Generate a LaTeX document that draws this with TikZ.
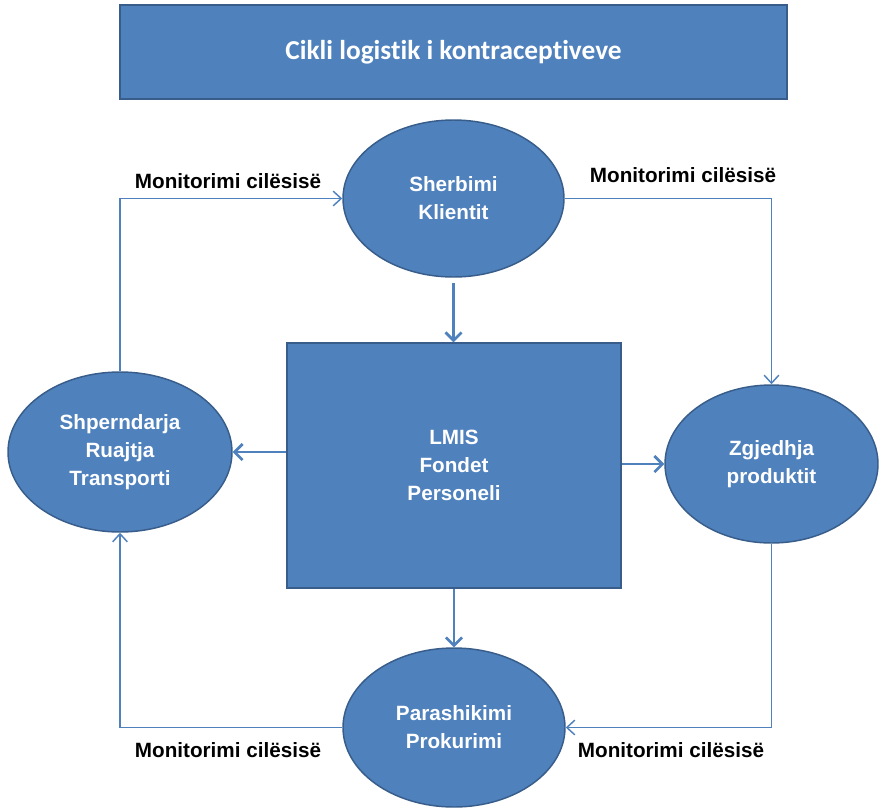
\documentclass[tikz,border=0pt]{standalone}
\usepackage{fontspec}
\setmainfont{Liberation Sans}
\newfontfamily\titlefont[Ligatures=NoCommon]{Carlito}
\usepackage{xcolor}
\usepackage{tikz}
\usetikzlibrary{arrows.meta}
\usetikzlibrary{shapes.geometric}
\usetikzlibrary{calc}
\usetikzlibrary{positioning}

\definecolor{boxblue}{HTML}{4F81BD}
\definecolor{edgeblue}{HTML}{385D8A}

\begin{document}
\begin{tikzpicture}[x=0.75pt,y=-0.75pt]
	\tikzstyle{every node}=[text=white, font=\fontsize{15.5}{21}\selectfont\bfseries, align=center]
	\tikzstyle{circ}=[ellipse, fill=boxblue, draw=edgeblue, line width=1.1pt, inner sep=0pt]
	\tikzstyle{blok}=[rectangle, fill=boxblue, draw=edgeblue, line width=1.1pt, inner sep=0pt]
	\tikzstyle{main}=[-{Straight Barb[length=6pt,width=12pt,line width=2pt]}, draw=boxblue, line width=2.2pt]
	\tikzstyle{mon}=[-{Straight Barb[length=6pt,width=11pt]}, draw=boxblue, line width=1.1pt]
	\tikzstyle{etik}=[text=black, font=\fontsize{15.5}{18}\selectfont\bfseries]
	\useasboundingbox (0,0) rectangle (879,808);

	\node[blok, minimum width=500.25pt, minimum height=70.5pt, font=\titlefont\fontsize{20.5}{24}\selectfont\bfseries] (title) at (453.5,52) {Cikli logistik i kontraceptiveve};
	\node[blok, minimum width=250.5pt, minimum height=183.75pt] (lmis) at (454,465.5) {LMIS\\Fondet\\Personeli};
	\node[circ, minimum width=165.75pt, minimum height=117.75pt] (klient) at (453.5,198.5) {Sherbimi\\Klientit};
	\node[circ, minimum width=159.75pt, minimum height=118.5pt] (zgjedhja) at (771.5,464) {Zgjedhja\\produktit};
	\node[circ, minimum width=166.5pt, minimum height=119.25pt] (parashikimi) at (454,727.5) {Parashikimi\\Prokurimi};
	\node[circ, minimum width=168pt, minimum height=120pt] (shperndarja) at (120,452) {Shperndarja\\Ruajtja\\Transporti};

	% lidhjet kryesore
	\draw[main, shorten <=4pt] (klient) -- (klient |- lmis.north);
	\draw[main] (lmis.west |- shperndarja) -- (shperndarja);
	\draw[main] (lmis.east |- zgjedhja) -- (zgjedhja);
	\draw[main] (lmis.south -| parashikimi) -- (parashikimi);

	% monitorimi
	\draw[mon] (shperndarja.north) |- (klient.west);
	\draw[mon] (klient.east) -| (zgjedhja.north);
	\draw[mon] (zgjedhja.south) |- (parashikimi.east);
	\draw[mon] (parashikimi.west) -| (shperndarja.south);

	\node[etik] (m1) at (228,181) {Monitorimi cilësisë};
	\node[etik] (m2) at (683,175) {Monitorimi cilësisë};
	\node[etik] (m3) at (228,750) {Monitorimi cilësisë};
	\node[etik] (m4) at (671,750) {Monitorimi cilësisë};
\end{tikzpicture}
\end{document}
